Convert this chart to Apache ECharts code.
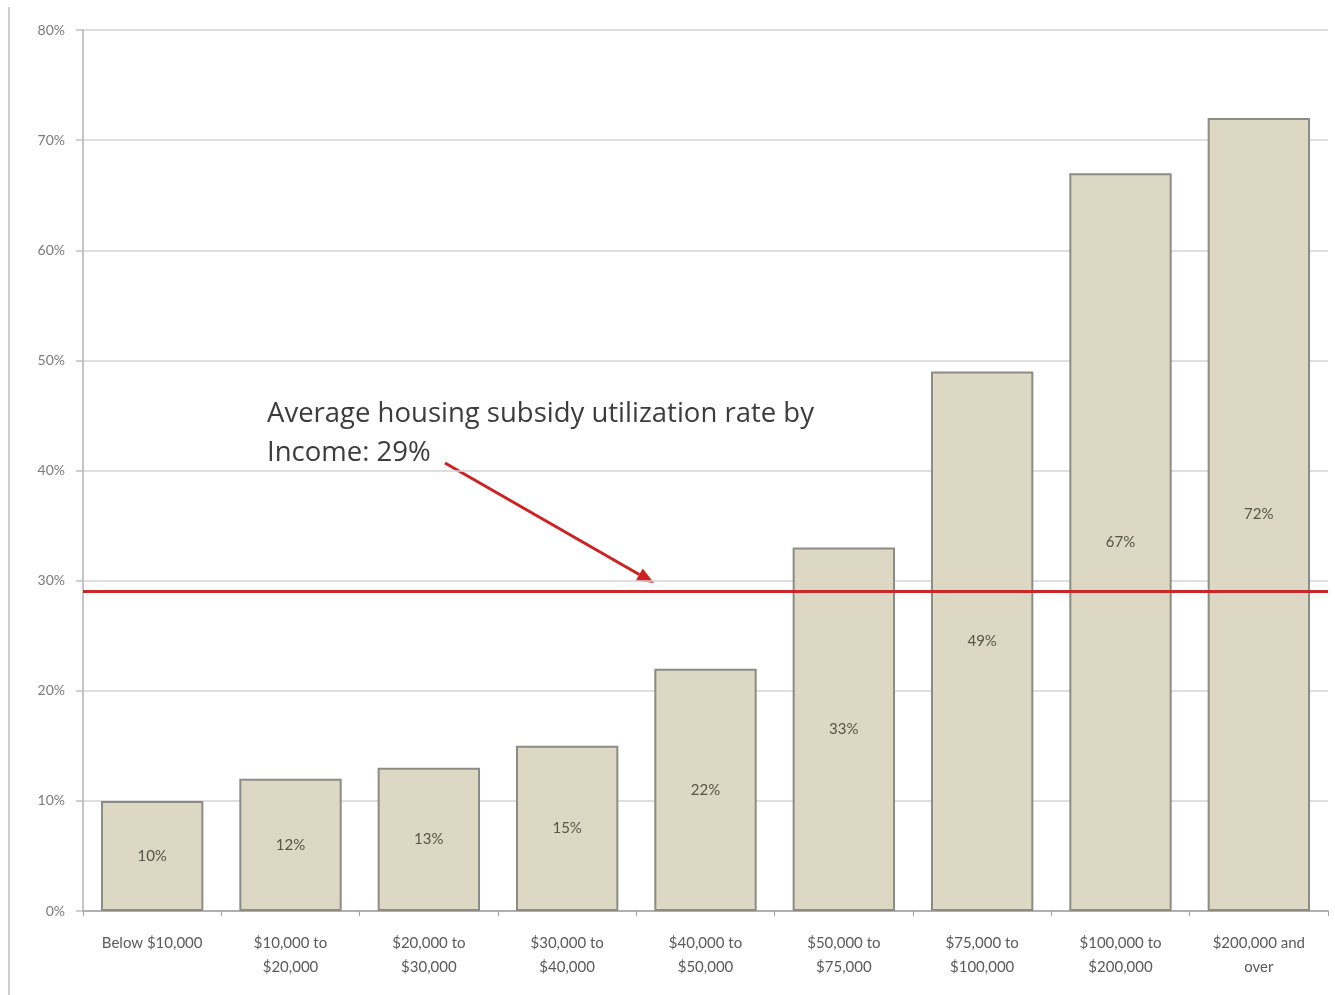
<!DOCTYPE html>
<html>
<head>
<meta charset="utf-8">
<script src="https://cdn.jsdelivr.net/npm/echarts@6/dist/echarts.min.js"></script>
<style>
  html, body { margin: 0; padding: 0; background: #ffffff; }
  #chart { width: 1335px; height: 995px; }
</style>
</head>
<body>
<div id="chart"></div>
<script>
// Income brackets (two-line labels) and housing subsidy utilization rate, in percent
const categories = [
  'Below $10,000',
  '$10,000 to\n$20,000',
  '$20,000 to\n$30,000',
  '$30,000 to\n$40,000',
  '$40,000 to\n$50,000',
  '$50,000 to\n$75,000',
  '$75,000 to\n$100,000',
  '$100,000 to\n$200,000',
  '$200,000 and\nover'
];
const utilization = [10, 12, 13, 15, 22, 33, 49, 67, 72];
const averageRate = 29;
const annotationLines = ['Average housing subsidy utilization rate by', 'Income: 29%'];

const chart = echarts.init(document.getElementById('chart'), null, { renderer: 'canvas' });

const textFont = 'Lato, "Open Sans", sans-serif';
const noteFont = '"Open Sans", "Noto Sans", sans-serif';

// Arrow pointing from the note down to the average line
const arrowFrom = [445, 463];
const arrowTo = [654, 583];
const ang = Math.atan2(arrowTo[1] - arrowFrom[1], arrowTo[0] - arrowFrom[0]);
const headLen = 17, headHalf = 7;
const back = [arrowTo[0] - headLen * Math.cos(ang), arrowTo[1] - headLen * Math.sin(ang)];
const headPts = [
  arrowTo,
  [back[0] + headHalf * Math.sin(ang), back[1] - headHalf * Math.cos(ang)],
  [back[0] - headHalf * Math.sin(ang), back[1] + headHalf * Math.cos(ang)]
];

chart.setOption({
  animation: false,
  backgroundColor: '#ffffff',
  grid: { left: 83, right: 7, top: 30, bottom: 84, containLabel: false },
  xAxis: {
    type: 'category',
    data: categories,
    axisLine: { show: true, lineStyle: { color: '#a0a0a0', width: 1.5 } },
    axisTick: { show: true, alignWithLabel: false, length: 5, lineStyle: { color: '#a0a0a0' } },
    axisLabel: {
      color: '#5a5a5a', fontSize: 15, fontFamily: textFont,
      lineHeight: 24, margin: 20, interval: 0
    },
    splitLine: { show: false }
  },
  yAxis: {
    type: 'value',
    min: 0, max: 80, interval: 10,
    axisLine: { show: true, lineStyle: { color: '#b0b0b0', width: 1.5 } },
    axisTick: { show: true, length: 7, lineStyle: { color: '#c0c0c0', width: 1.5 } },
    axisLabel: {
      formatter: '{value}%', color: '#7a7a7a', fontSize: 14,
      fontFamily: textFont, margin: 18
    },
    splitLine: { show: true, lineStyle: { color: '#d4d4d4', width: 1.5 } }
  },
  series: [{
    type: 'bar',
    data: utilization,
    barCategoryGap: '26%',
    itemStyle: { color: '#ddd8c3', borderColor: '#8c8c84', borderWidth: 2 },
    label: {
      show: true, position: 'inside',
      formatter: p => p.value + '%',
      color: '#555548', fontSize: 15, fontFamily: textFont
    },
    markLine: {
      silent: true,
      symbol: 'none',
      label: { show: false },
      lineStyle: { color: '#c8282a', width: 3, type: 'solid' },
      data: [{ yAxis: averageRate }]
    }
  }],
  graphic: [
    {
      type: 'line',
      shape: { x1: 9, y1: 7, x2: 9, y2: 995 },
      style: { stroke: '#d0d0d0', lineWidth: 2 }
    },
    {
      type: 'text',
      left: 267, top: 395,
      style: {
        text: annotationLines.join('\n'),
        fill: '#3c3c3c', fontSize: 27.5, fontFamily: noteFont,
        lineHeight: 39
      }
    },
    {
      type: 'line',
      shape: { x1: arrowFrom[0], y1: arrowFrom[1], x2: back[0], y2: back[1] },
      style: { stroke: '#cc2222', lineWidth: 3 }
    },
    {
      type: 'polygon',
      shape: { points: headPts },
      style: { fill: '#cc2222' }
    }
  ]
});
</script>
</body>
</html>
